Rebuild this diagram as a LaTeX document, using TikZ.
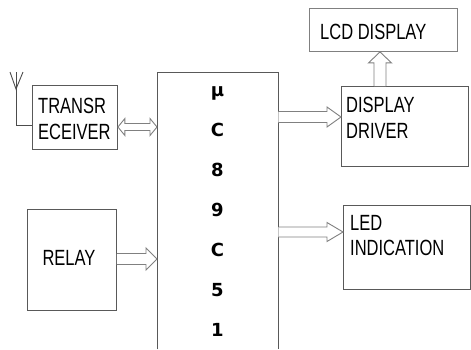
\documentclass[tikz,border=0pt]{standalone}
\usepackage{fontspec}
\setmainfont[FakeStretch=0.75]{Liberation Sans}
\newfontfamily\mcfont{DejaVu Sans}
\usetikzlibrary{calc}
\tikzset{
  box/.style={draw=black!65, line width=0.9pt, inner sep=0pt, anchor=north west},
  lbl/.style={inner sep=0pt, align=left, font=\fontsize{22}{25.5}\selectfont, text=black},
  arrline/.style={draw=black!50, line width=0.9pt, fill=white, line join=miter},
}
% right-pointing block arrow: start, tip, shaft half, head half, head length
\newcommand\rarr[5]{%
  \draw[arrline] ($(#1)+(0,-#3)$) -- ($(#2)+(-#5,-#3)$) -- ($(#2)+(-#5,-#4)$) -- (#2)
    -- ($(#2)+(-#5,#4)$) -- ($(#2)+(-#5,#3)$) -- ($(#1)+(0,#3)$);}
% double block arrow: left tip, right tip, shaft half, head half, head length
\newcommand\darr[5]{%
  \draw[arrline] (#1) -- ($(#1)+(#5,-#4)$) -- ($(#1)+(#5,-#3)$) -- ($(#2)+(-#5,-#3)$)
    -- ($(#2)+(-#5,-#4)$) -- (#2) -- ($(#2)+(-#5,#4)$) -- ($(#2)+(-#5,#3)$)
    -- ($(#1)+(#5,#3)$) -- ($(#1)+(#5,#4)$) -- cycle;}
% upward block arrow: start (bottom), tip (top), shaft half, head half, head length
\newcommand\uarr[5]{%
  \draw[arrline] ($(#1)+(-#3,0)$) -- ($(#2)+(-#3,#5)$) -- ($(#2)+(-#4,#5)$) -- (#2)
    -- ($(#2)+(#4,#5)$) -- ($(#2)+(#3,#5)$) -- ($(#1)+(#3,0)$);}
\begin{document}
\begin{tikzpicture}[x=1pt,y=-1pt]
\useasboundingbox[fill=white] (0,0) rectangle (471,349);

% boxes
\node[box, minimum width=85, minimum height=64] (tr) at (32,85) {};
\node[box, minimum width=89, minimum height=101] (relay) at (27,209) {};
\node[box, draw=black!50, minimum width=148, minimum height=43] (lcd) at (309,8) {};
\node[box, minimum width=127, minimum height=80] (dd) at (341,86) {};
\node[box, minimum width=127, minimum height=84] (led) at (343,205) {};
\node[inner sep=0pt, anchor=north west, minimum width=121, minimum height=277] (mc) at (157,72) {};
\draw[draw=black!65, line width=0.9pt] (mc.south west) -- (mc.north west) -- (mc.north east) -- (mc.south east);

% labels
\node[lbl, anchor=north west] (trl) at (38,98) {TRANSR\\ECEIVER};
\node[lbl] (relayl) at (69,258) {RELAY};
\node[lbl, anchor=west] (lcdl) at (320,31.5) {LCD DISPLAY};
\node[lbl, anchor=north west] (ddl) at (346,97) {DISPLAY\\DRIVER};
\node[lbl, anchor=north west] (ledl) at (350,215) {LED\\INDICATION};
\node[inner sep=0pt, anchor=north, align=center,
      font=\mcfont\bfseries\fontsize{18}{40}\selectfont] (mcl) at (217.5,86.5)
      {µ\\C\\8\\9\\C\\5\\1};

% antenna
\coordinate (antTop) at (16,72);
\coordinate (antV) at (16,89);
\coordinate (antCorner) at (16,125);
\draw[draw=black!70, line width=0.9pt] (10,72) -- (antV) -- (23,72);
\draw[draw=black!70, line width=0.9pt] (antTop) -- (antCorner) -- (tr.west |- antCorner);

% arrows
\coordinate (a1) at (tr.east |- 0,127);
\coordinate (a2) at (mc.west |- 0,127);
\darr{a1}{a2}{3.5}{8.5}{7}

\coordinate (b1) at (relay.east |- 0,259);
\coordinate (b2) at (mc.west |- 0,259);
\rarr{b1}{b2}{5.5}{11}{11}

\coordinate (c1) at (mc.east |- 0,117);
\coordinate (c2) at (dd.west |- 0,117);
\rarr{c1}{c2}{5.5}{10}{14}

\coordinate (d1) at (mc.east |- 0,232);
\coordinate (d2) at (led.west |- 0,232);
\rarr{d1}{d2}{5}{9.5}{16}

\coordinate (e1) at (380,0 |- dd.north);
\coordinate (e2) at (380,0 |- lcd.south);
\uarr{e1}{e2}{6}{11.5}{11}
\end{tikzpicture}
\end{document}
